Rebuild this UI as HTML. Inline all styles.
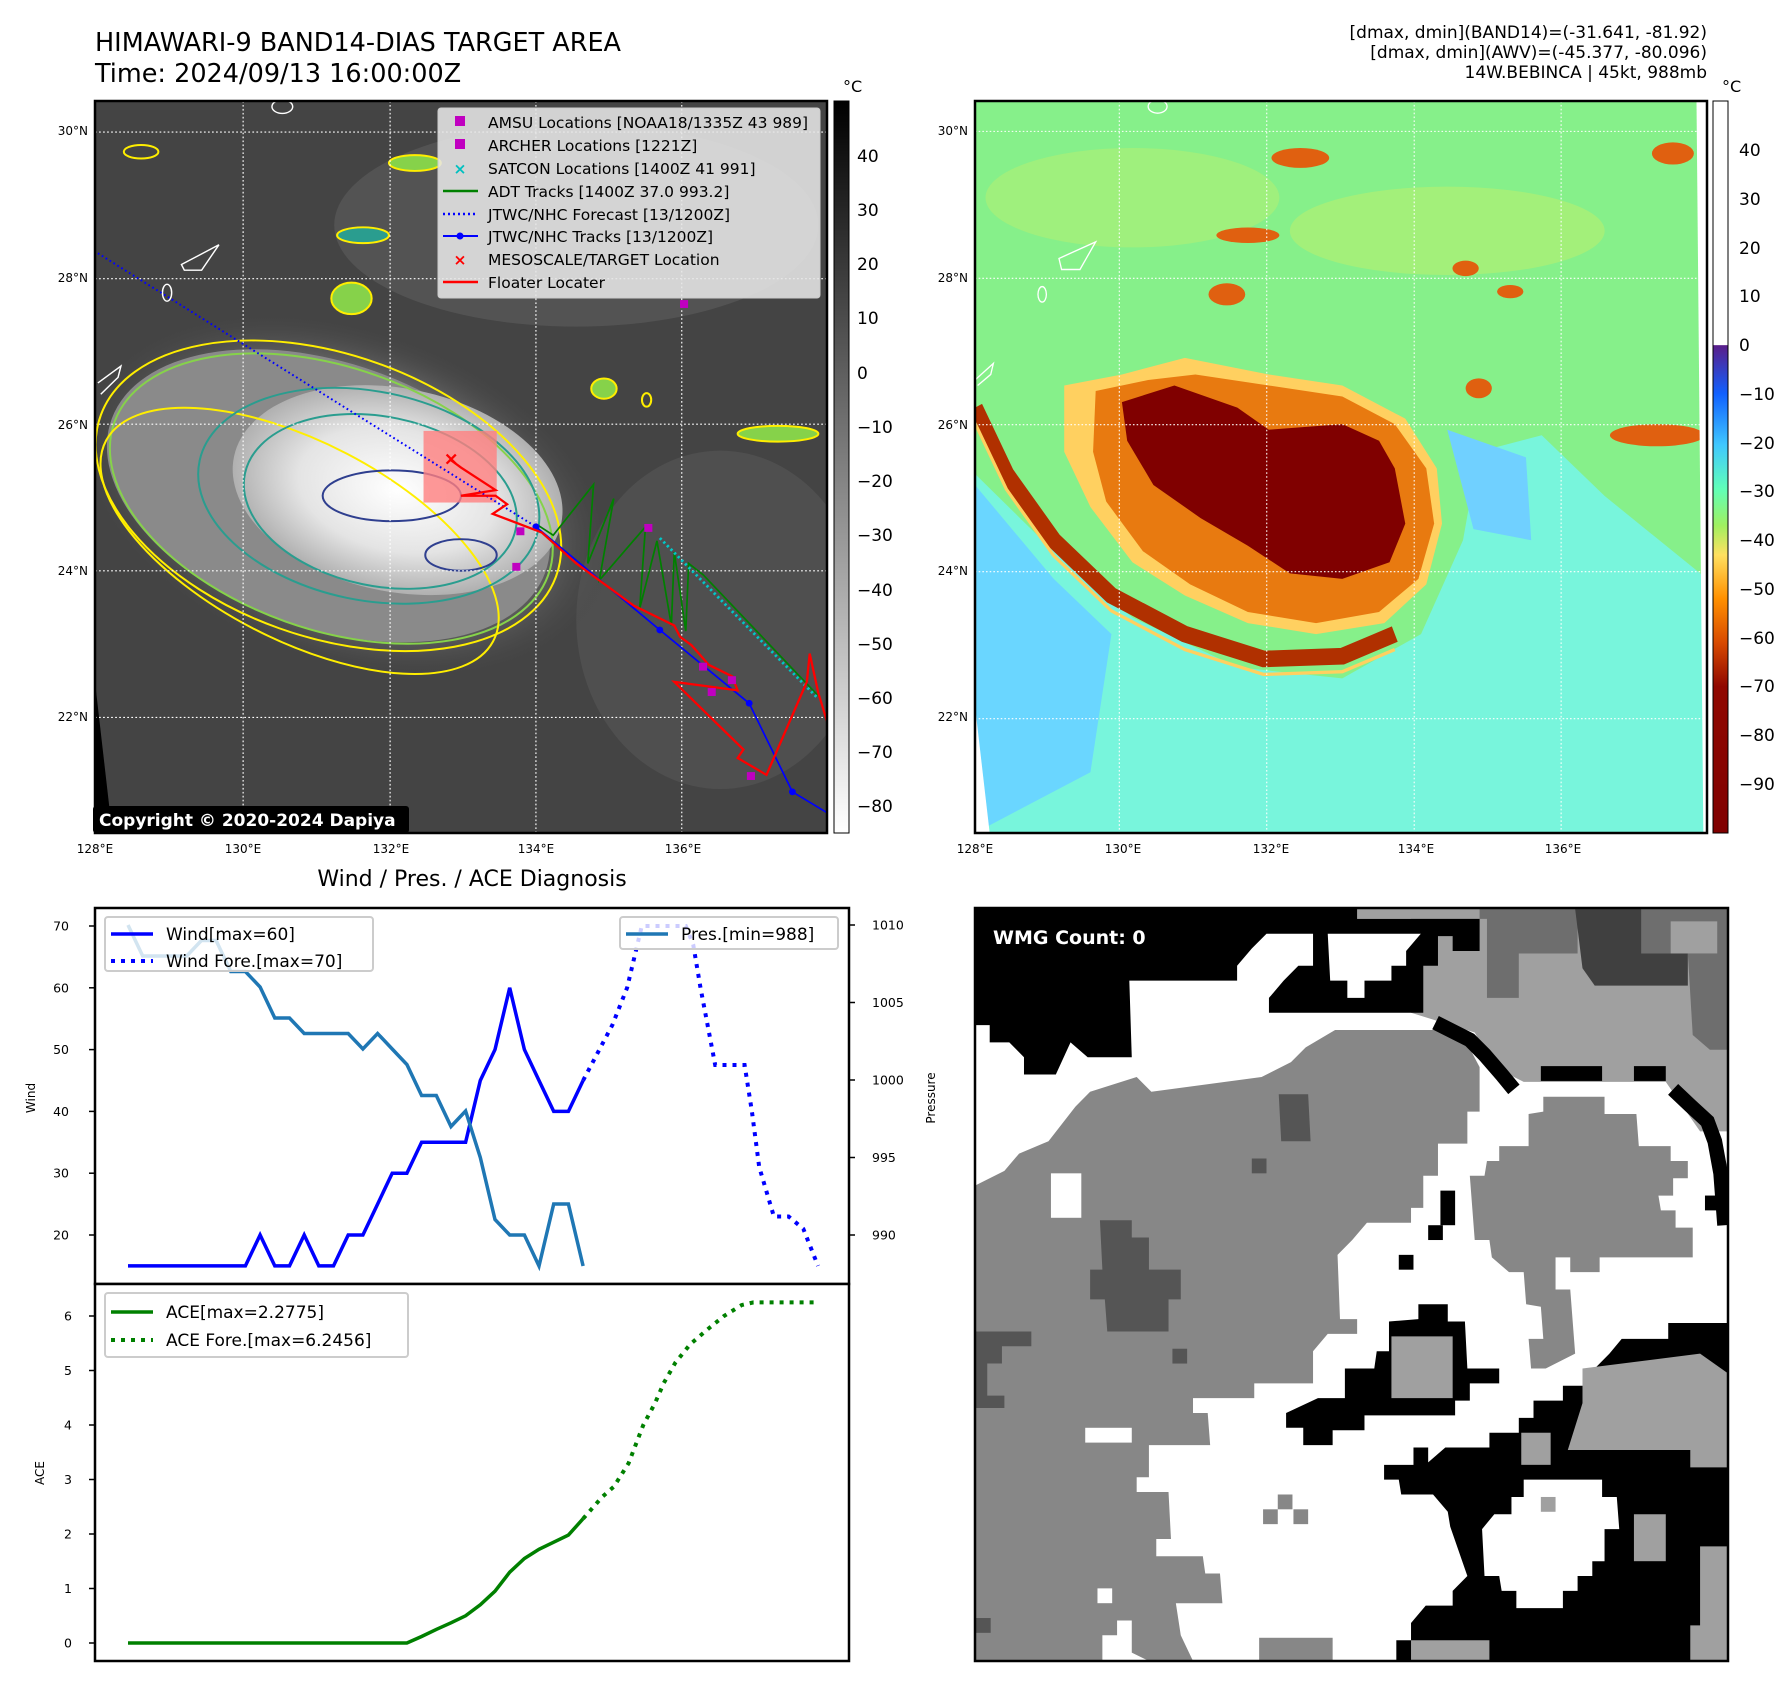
<!DOCTYPE html>
<html><head><meta charset="utf-8">
<style>
html,body{margin:0;padding:0;background:#fff;}
svg{display:block;font-family:"DejaVu Sans","Liberation Sans",sans-serif;}
</style></head>
<body>
<svg id="root" width="1788" height="1690" viewBox="0 0 1788 1690" xmlns="http://www.w3.org/2000/svg">
<defs>
  <linearGradient id="cb1" x1="0" y1="0" x2="0" y2="1">
    <stop offset="0" stop-color="#000"/><stop offset="1" stop-color="#fff"/>
  </linearGradient>
  <linearGradient id="cb2" x1="0" y1="0" x2="0" y2="1">
    <stop offset="0" stop-color="#ffffff"/>
    <stop offset="0.333" stop-color="#ffffff"/>
    <stop offset="0.334" stop-color="#5a1e8a"/>
    <stop offset="0.40" stop-color="#1060ff"/>
    <stop offset="0.47" stop-color="#40c8ff"/>
    <stop offset="0.53" stop-color="#60ffb8"/>
    <stop offset="0.58" stop-color="#a0f060"/>
    <stop offset="0.62" stop-color="#ffe060"/>
    <stop offset="0.68" stop-color="#ff9000"/>
    <stop offset="0.74" stop-color="#d84a00"/>
    <stop offset="0.80" stop-color="#900800"/>
    <stop offset="1" stop-color="#800000"/>
  </linearGradient>
  <radialGradient id="core1" cx="0.5" cy="0.5" r="0.5">
    <stop offset="0" stop-color="#ffffff"/><stop offset="0.6" stop-color="#e4e4e4"/><stop offset="1" stop-color="#b0b0b0"/>
  </radialGradient>
  <radialGradient id="halo1" cx="0.5" cy="0.5" r="0.5">
    <stop offset="0" stop-color="#a0a0a0"/><stop offset="0.7" stop-color="#7a7a7a"/><stop offset="1" stop-color="#444" stop-opacity="0"/>
  </radialGradient>
</defs>

<!-- Titles -->
<text x="95" y="51" font-size="25.5" fill="#000">HIMAWARI-9 BAND14-DIAS TARGET AREA</text>
<text x="95" y="82" font-size="25.5" fill="#000">Time: 2024/09/13 16:00:00Z</text>
<g font-size="17" text-anchor="end" fill="#000">
  <text x="1707" y="38">[dmax, dmin](BAND14)=(-31.641, -81.92)</text>
  <text x="1707" y="58">[dmax, dmin](AWV)=(-45.377, -80.096)</text>
  <text x="1707" y="78">14W.BEBINCA | 45kt, 988mb</text>
</g>

<!-- MAP 1 -->
<g>
<svg x="95" y="101" width="732" height="732" viewBox="165 180 1270 1298" preserveAspectRatio="none">
  <rect x="165" y="180" width="1270" height="1298" fill="#444"/>
  <ellipse cx="1000" cy="400" rx="420" ry="180" fill="#5a5a5a" opacity="0.7"/>
  <ellipse cx="1250" cy="1100" rx="250" ry="300" fill="#525252" opacity="0.8"/>
  <ellipse cx="600" cy="880" rx="480" ry="300" transform="rotate(20 600 880)" fill="url(#halo1)" opacity="0.8"/>
  <ellipse cx="570" cy="880" rx="400" ry="235" transform="rotate(20 570 880)" fill="#8a8a8a"/>
  <ellipse cx="690" cy="870" rx="290" ry="180" transform="rotate(12 690 870)" fill="url(#core1)"/>
  <g fill="none" stroke-width="3.5">
    <ellipse cx="570" cy="880" rx="420" ry="250" transform="rotate(20 570 880)" stroke="#ffee00"/>
    <ellipse cx="575" cy="885" rx="400" ry="232" transform="rotate(20 575 885)" stroke="#86d24a"/>
    <ellipse cx="520" cy="960" rx="380" ry="175" transform="rotate(28 520 960)" stroke="#ffee00"/>
    <ellipse cx="640" cy="880" rx="300" ry="185" transform="rotate(12 640 880)" stroke="#2a9d8f"/>
    <ellipse cx="660" cy="890" rx="240" ry="150" transform="rotate(12 660 890)" stroke="#2a9d8f"/>
    <ellipse cx="680" cy="880" rx="120" ry="45" stroke="#2f3f8f"/>
    <ellipse cx="800" cy="985" rx="62" ry="28" stroke="#2f3f8f"/>
    <ellipse cx="630" cy="418" rx="45" ry="14" stroke="#ffee00" fill="#2a9d8f"/>
    <ellipse cx="720" cy="290" rx="45" ry="14" stroke="#ffee00" fill="#86d24a"/>
    <ellipse cx="610" cy="530" rx="35" ry="28" stroke="#ffee00" fill="#86d24a"/>
    <ellipse cx="1048" cy="690" rx="22" ry="18" stroke="#ffee00" fill="#86d24a"/>
    <ellipse cx="1350" cy="770" rx="70" ry="14" stroke="#ffee00" fill="#86d24a"/>
    <ellipse cx="245" cy="270" rx="30" ry="12" stroke="#ffee00"/>
    <ellipse cx="1122" cy="710" rx="8" ry="12" stroke="#ffee00"/>
  </g>
  <polygon points="165,1210 195,1478 165,1478" fill="#000"/>
  <g stroke="#fff" stroke-width="2.5" fill="none">
    <path d="M315,470 L380,435 L350,480 L320,480 Z"/>
    <ellipse cx="290" cy="520" rx="8" ry="15"/>
    <path d="M170,680 L210,650 L205,670 L175,700"/>
    <ellipse cx="490" cy="190" rx="18" ry="12"/>
  </g>
  <g stroke="#fff" stroke-width="2" stroke-dasharray="3,4">
    <line x1="422" y1="180" x2="422" y2="1478"/><line x1="677" y1="180" x2="677" y2="1478"/>
    <line x1="930" y1="180" x2="930" y2="1478"/><line x1="1183" y1="180" x2="1183" y2="1478"/>
    <line x1="165" y1="235" x2="1435" y2="235"/><line x1="165" y1="495" x2="1435" y2="495"/>
    <line x1="165" y1="753" x2="1435" y2="753"/><line x1="165" y1="1013" x2="1435" y2="1013"/>
    <line x1="165" y1="1273" x2="1435" y2="1273"/>
  </g>
  <rect x="735" y="765" width="127" height="127" fill="#ff8080" opacity="0.8"/>
  <polyline points="170,450 930,935" fill="none" stroke="#0000ff" stroke-width="3.5" stroke-dasharray="3,5"/>
  <polyline points="930,930 960,950 1030,860 1020,1000 1065,885 1040,1030 1120,935 1110,1080 1140,960 1165,1110 1170,980 1190,1120 1195,1000 1220,1020 1420,1235" fill="none" stroke="#008000" stroke-width="3"/>
  <polyline points="1145,955 1420,1240" fill="none" stroke="#00c8c8" stroke-width="5" stroke-dasharray="4,5"/>
  <polyline points="930,935 1145,1118 1300,1248 1375,1405 1435,1442" fill="none" stroke="#0000ff" stroke-width="3"/>
  <g fill="#0000ff"><circle cx="930" cy="935" r="6"/><circle cx="1145" cy="1118" r="6"/><circle cx="1300" cy="1248" r="6"/><circle cx="1375" cy="1405" r="6"/></g>
  <polyline points="780,815 800,830 860,870 800,880 860,880 880,895 855,912 940,945 1000,1000 1100,1075 1140,1095 1170,1110 1180,1130 1200,1145 1230,1180 1270,1200 1280,1225 1170,1210 1290,1330 1280,1345 1330,1375 1400,1210 1405,1160 1420,1230 1435,1280" fill="none" stroke="#ff0000" stroke-width="4"/>
  <g fill="#c000c0">
    <rect x="1180" y="533" width="14" height="14"/><rect x="896" y="936" width="14" height="14"/>
    <rect x="889" y="999" width="14" height="14"/><rect x="1213" y="1176" width="14" height="14"/>
    <rect x="1228" y="1221" width="14" height="14"/><rect x="1296" y="1370" width="14" height="14"/>
    <rect x="1263" y="1200" width="14" height="14"/><rect x="1118" y="930" width="14" height="14"/>
  </g>
  <g stroke="#ff0000" stroke-width="4"><line x1="775" y1="807" x2="791" y2="823"/><line x1="791" y1="807" x2="775" y2="823"/></g>
</svg>
<rect x="95" y="101" width="732" height="732" fill="none" stroke="#000" stroke-width="2.5"/>
</g>

<!-- Map 1 legend -->
<g>
  <rect x="438" y="108" width="382" height="190" rx="3" fill="#e6e6e6" fill-opacity="0.88" stroke="#ccc"/>
  <g font-size="15.5" fill="#000">
    <rect x="455" y="116" width="10" height="10" fill="#c000c0"/><text x="488" y="128">AMSU Locations [NOAA18/1335Z 43 989]</text>
    <rect x="455" y="139" width="10" height="10" fill="#c000c0"/><text x="488" y="151">ARCHER Locations [1221Z]</text>
    <text x="460" y="174" fill="#00c0c0" text-anchor="middle" font-weight="bold">×</text><text x="488" y="174">SATCON Locations [1400Z 41 991]</text>
    <line x1="443" y1="191" x2="478" y2="191" stroke="#008000" stroke-width="2.5"/><text x="488" y="197">ADT Tracks [1400Z 37.0 993.2]</text>
    <line x1="443" y1="214" x2="478" y2="214" stroke="#0000ff" stroke-width="2.5" stroke-dasharray="2,3"/><text x="488" y="220">JTWC/NHC Forecast [13/1200Z]</text>
    <line x1="443" y1="236" x2="478" y2="236" stroke="#0000ff" stroke-width="2"/><circle cx="460" cy="236" r="3.5" fill="#0000ff"/><text x="488" y="242">JTWC/NHC Tracks [13/1200Z]</text>
    <text x="460" y="265" fill="#ff0000" text-anchor="middle" font-weight="bold">×</text><text x="488" y="265">MESOSCALE/TARGET Location</text>
    <line x1="443" y1="282" x2="478" y2="282" stroke="#ff0000" stroke-width="2.5"/><text x="488" y="288">Floater Locater</text>
  </g>
</g>
<g>
  <rect x="93" y="806" width="316" height="27" rx="3" fill="#000"/>
  <text x="99" y="826" font-size="17" font-weight="bold" fill="#fff">Copyright © 2020-2024 Dapiya</text>
</g>

<!-- Map axes labels -->
<g font-size="12" fill="#000">
  <text x="88" y="135" text-anchor="end">30°N</text><text x="88" y="282" text-anchor="end">28°N</text>
  <text x="88" y="429" text-anchor="end">26°N</text><text x="88" y="575" text-anchor="end">24°N</text>
  <text x="88" y="721" text-anchor="end">22°N</text>
  <text x="95" y="853" text-anchor="middle">128°E</text><text x="243" y="853" text-anchor="middle">130°E</text>
  <text x="391" y="853" text-anchor="middle">132°E</text><text x="536" y="853" text-anchor="middle">134°E</text>
  <text x="683" y="853" text-anchor="middle">136°E</text>
</g>
<g>
  <rect x="834" y="101" width="15" height="732" fill="url(#cb1)" stroke="#000" stroke-width="1"/>
  <text x="843" y="92" font-size="16">°C</text>
  <g font-size="17" fill="#000">
    <text x="857" y="162">40</text><text x="857" y="216">30</text><text x="857" y="270">20</text>
    <text x="857" y="324">10</text><text x="857" y="379">0</text><text x="857" y="433">−10</text>
    <text x="857" y="487">−20</text><text x="857" y="541">−30</text><text x="857" y="596">−40</text>
    <text x="857" y="650">−50</text><text x="857" y="704">−60</text><text x="857" y="758">−70</text>
    <text x="857" y="812">−80</text>
  </g>
</g>

<!-- MAP 2 -->
<g>
<svg x="975" y="101" width="732" height="732" viewBox="0 185 1395 1325" preserveAspectRatio="none">
  <rect x="0" y="185" width="1395" height="1325" fill="#86f08a"/>
  <polygon points="0,860 150,1000 300,1120 500,1210 700,1230 850,1150 930,980 960,820 1080,790 1200,900 1395,1050 1395,1510 0,1510" fill="#78f5dc"/>
  <polygon points="0,880 150,1050 260,1150 220,1400 0,1510" fill="#6ad6ff"/>
  <polygon points="900,780 1050,830 1060,980 950,960" fill="#70d0ff"/>
  <ellipse cx="900" cy="420" rx="300" ry="80" fill="#b8f070" opacity="0.6"/>
  <ellipse cx="300" cy="360" rx="280" ry="90" fill="#b8f070" opacity="0.5"/>
  <polygon points="170,700 280,680 400,650 560,680 700,700 820,760 880,850 890,950 860,1060 780,1130 650,1150 520,1130 400,1080 300,1020 220,920 170,820" fill="#ffd060"/>
  <polygon points="230,710 330,690 420,680 560,700 700,720 800,770 860,850 875,950 845,1050 770,1110 650,1130 520,1110 410,1060 320,1000 250,910 225,820" fill="#e87a10"/>
  <polyline points="0,740 60,860 150,980 260,1080 400,1150 550,1195 700,1190 800,1150" fill="none" stroke="#b03000" stroke-width="30"/>
  <polyline points="0,740 60,860 150,980 260,1080 400,1150 550,1195 700,1190 800,1150" fill="none" stroke="#ffd060" stroke-width="6" transform="translate(0,28)"/>
  <polygon points="280,730 380,700 500,740 560,780 700,770 770,800 800,850 820,950 790,1020 700,1050 600,1040 520,990 430,940 340,880 290,800" fill="#800000"/>
  <g fill="#e06010">
    <ellipse cx="620" cy="288" rx="55" ry="18"/><ellipse cx="520" cy="428" rx="60" ry="14"/>
    <ellipse cx="480" cy="535" rx="35" ry="20"/><ellipse cx="935" cy="488" rx="25" ry="14"/>
    <ellipse cx="960" cy="705" rx="25" ry="18"/><ellipse cx="1300" cy="790" rx="90" ry="20"/>
    <ellipse cx="1330" cy="280" rx="40" ry="20"/><ellipse cx="1020" cy="530" rx="25" ry="12"/>
  </g>
  <polygon points="0,1280 28,1510 0,1510" fill="#fff"/>
  <polygon points="1375,185 1395,185 1395,1510 1388,1510" fill="#fff"/>
  <g stroke="#fff" stroke-width="2.5" fill="none">
    <path d="M160,470 L230,440 L200,490 L165,490 Z"/><ellipse cx="128" cy="535" rx="8" ry="14"/>
    <path d="M0,690 L35,660 L30,680 L5,700"/><ellipse cx="348" cy="195" rx="18" ry="12"/>
  </g>
  <g stroke="#fff" stroke-width="2" stroke-dasharray="3,4">
    <line x1="275" y1="185" x2="275" y2="1510"/><line x1="556" y1="185" x2="556" y2="1510"/>
    <line x1="837" y1="185" x2="837" y2="1510"/><line x1="1117" y1="185" x2="1117" y2="1510"/>
    <line x1="0" y1="240" x2="1395" y2="240"/><line x1="0" y1="506" x2="1395" y2="506"/>
    <line x1="0" y1="771" x2="1395" y2="771"/><line x1="0" y1="1037" x2="1395" y2="1037"/>
    <line x1="0" y1="1303" x2="1395" y2="1303"/>
  </g>
</svg>
<rect x="975" y="101" width="732" height="732" fill="none" stroke="#000" stroke-width="2.5"/>
</g>
<g font-size="12" fill="#000">
  <text x="968" y="135" text-anchor="end">30°N</text><text x="968" y="282" text-anchor="end">28°N</text>
  <text x="968" y="429" text-anchor="end">26°N</text><text x="968" y="575" text-anchor="end">24°N</text>
  <text x="968" y="721" text-anchor="end">22°N</text>
  <text x="975" y="853" text-anchor="middle">128°E</text><text x="1123" y="853" text-anchor="middle">130°E</text>
  <text x="1271" y="853" text-anchor="middle">132°E</text><text x="1416" y="853" text-anchor="middle">134°E</text>
  <text x="1563" y="853" text-anchor="middle">136°E</text>
</g>
<g>
  <rect x="1713" y="101" width="15" height="732" fill="url(#cb2)" stroke="#000" stroke-width="1"/>
  <text x="1722" y="92" font-size="16">°C</text>
  <g font-size="17" fill="#000">
    <text x="1739" y="156">40</text><text x="1739" y="205">30</text><text x="1739" y="254">20</text>
    <text x="1739" y="302">10</text><text x="1739" y="351">0</text><text x="1739" y="400">−10</text>
    <text x="1739" y="449">−20</text><text x="1739" y="497">−30</text><text x="1739" y="546">−40</text>
    <text x="1739" y="595">−50</text><text x="1739" y="644">−60</text><text x="1739" y="692">−70</text>
    <text x="1739" y="741">−80</text><text x="1739" y="790">−90</text>
  </g>
</g>

<!-- Charts -->
<text x="472" y="886" font-size="22" text-anchor="middle">Wind / Pres. / ACE Diagnosis</text>
<g id="charts"></g>

<!-- WMG panel -->
<g>
<svg x="975" y="908" width="753" height="753" viewBox="0 8 1537 1524" preserveAspectRatio="none">
  <rect x="0" y="8" width="1537" height="1524" fill="#fff"/>
  <polygon fill="#878787" points="0,570 60,540 90,505 150,480 205,410 235,380 330,350 360,380 585,350 645,320 675,290 735,255 990,255 1030,330 1030,420 1005,420 1005,485 945,485 945,550 915,550 915,615 890,615 890,645 800,645 770,680 740,710 745,840 780,840 780,870 720,870 690,905 690,970 570,970 570,1000 445,1000 445,1030 475,1030 480,1095 355,1095 355,1160 330,1160 330,1190 395,1190 400,1285 370,1285 370,1320 465,1320 470,1355 500,1355 505,1415 410,1415 420,1480 445,1532 355,1532 320,1515 320,1450 290,1450 290,1480 260,1480 260,1532 0,1532"/>
  <polygon fill="#878787" points="1160,390 1285,390 1285,425 1350,425 1355,490 1420,490 1420,520 1455,520 1455,555 1425,555 1425,590 1395,590 1400,620 1430,620 1430,655 1465,655 1465,715 1275,715 1275,745 1215,745 1215,715 1185,715 1185,780 1215,780 1225,910 1165,940 1135,940 1130,880 1160,880 1155,815 1125,810 1120,745 1090,745 1055,715 1050,680 1020,680 1010,550 1040,550 1045,520 1070,520 1070,490 1130,490 1130,425 1160,420"/>
  <g fill="#fff">
    <rect x="155" y="545" width="62" height="90"/><rect x="225" y="1060" width="95" height="30"/><rect x="250" y="1385" width="30" height="30"/>
  </g>
  <g fill="#878787"><rect x="580" y="1485" width="150" height="47"/><rect x="618" y="1195" width="30" height="30"/><rect x="588" y="1225" width="30" height="30"/><rect x="650" y="1225" width="30" height="30"/></g>
  <g fill="#555">
    <polygon points="620,385 680,385 685,480 625,480"/>
    <polygon points="255,640 320,640 320,675 355,675 355,740 420,740 420,800 395,800 395,865 270,865 265,800 235,800 235,740 260,740"/>
    <polygon points="0,865 115,865 115,895 55,895 55,930 25,930 25,995 60,995 60,1020 0,1020"/>
    <rect x="565" y="515" width="30" height="30"/><rect x="403" y="900" width="30" height="30"/><rect x="0" y="1445" width="32" height="30"/>
  </g>
  <polygon fill="#a0a0a0" points="890,8 1537,8 1537,460 1480,460 1410,360 1120,360 1060,330 1020,260 890,220"/>
  <polygon fill="#a0a0a0" points="55,110 280,110 280,215 95,215"/>
  <rect x="780" y="10" width="250" height="20" fill="#a0a0a0"/>
  <polygon fill="#6e6e6e" points="1030,10 1230,10 1230,100 1110,100 1110,190 1045,190 1045,30 1030,30"/>
  <polygon fill="#6e6e6e" points="1455,100 1537,100 1537,295 1500,295 1465,265"/>
  <polygon fill="#6e6e6e" points="1360,10 1537,10 1537,100 1360,100"/>
  <rect x="1420" y="35" width="95" height="65" fill="#a0a0a0"/>
  <polygon fill="#404040" points="1225,10 1360,10 1360,100 1455,100 1455,165 1265,165 1240,130"/>
  <g fill="#000">
    <polygon points="0,10 780,10 780,30 1030,30 1030,95 975,95 975,65 945,65 945,125 915,125 915,220 600,220 600,190 630,155 660,125 690,125 690,60 595,60 565,90 535,125 535,155 315,155 320,310 230,310 195,280 165,345 100,345 100,310 70,280 30,280 30,245 0,245"/>
    <polyline points="940,240 1010,275 1040,305 1075,345 1100,375" fill="none" stroke="#000" stroke-width="30"/>
    <rect x="1155" y="328" width="125" height="30"/><rect x="1345" y="328" width="65" height="30"/>
    <polyline points="1425,375 1460,408 1495,440 1510,480 1522,545 1530,650" fill="none" stroke="#000" stroke-width="30"/>
    <rect x="950" y="580" width="30" height="70"/><rect x="925" y="650" width="30" height="30"/>
    <rect x="865" y="710" width="30" height="30"/><rect x="1490" y="590" width="30" height="30"/>
    <polygon points="905,810 965,810 965,845 1000,845 1005,940 1070,940 1070,970 1010,970 1010,1005 980,1005 980,1035 795,1035 795,1065 730,1065 730,1095 670,1095 670,1060 635,1060 635,1030 700,1000 755,1000 755,940 815,940 820,905 845,905 845,845 905,840"/>
    <polygon points="1415,848 1537,848 1537,1532 860,1532 860,1490 890,1490 890,1455 920,1420 975,1420 975,1390 1005,1360 970,1260 965,1230 935,1195 870,1195 865,1165 835,1165 835,1135 895,1135 895,1100 925,1100 925,1130 960,1100 1050,1100 1050,1070 1110,1070 1110,1040 1140,1040 1140,1005 1200,1005 1200,975 1265,975 1265,940 1295,910 1320,880 1415,880"/>
  </g>
  <polygon fill="#fff" points="720,60 910,60 880,95 880,125 850,125 850,155 795,155 795,190 760,190 760,155 725,155"/>
  <polygon fill="#fff" points="1120,1165 1280,1165 1280,1200 1310,1200 1315,1265 1285,1265 1285,1330 1260,1330 1260,1360 1230,1360 1230,1390 1200,1390 1200,1425 1105,1425 1105,1390 1075,1390 1070,1360 1040,1360 1035,1265 1060,1235 1095,1235 1095,1200 1120,1200"/>
  <g fill="#a0a0a0">
    <polygon points="850,875 975,875 975,1000 850,1000"/>
    <polygon points="1240,940 1480,910 1537,950 1537,1140 1460,1140 1460,1105 1210,1105 1240,1010"/>
    <polygon points="1480,1300 1537,1300 1537,1532 1460,1532 1460,1460 1480,1460"/>
    <rect x="1345" y="1235" width="65" height="95"/><rect x="890" y="1490" width="160" height="42"/>
    <rect x="1155" y="1200" width="30" height="30"/><rect x="1115" y="1070" width="60" height="65"/>
  </g>
</svg>
<rect x="975" y="908" width="753" height="753" fill="none" stroke="#000" stroke-width="2.5"/>
<rect x="985" y="922" width="184" height="30" rx="4" fill="#000"/>
<text x="993" y="944" font-size="19" font-weight="bold" fill="#fff">WMG Count: 0</text>
</g>
</svg>

<script>
// ---- chart data ----
const obsIdx = [0,1,2,3,4,5,6,7,8,9,10,11,12,13,14,15,16,17,18,19,20,21,22,23,24,25,26,27,28,29,30,31];
const windObs = [15,15,15,15,15,15,15,15,15,20,15,15,20,15,15,20,20,25,30,30,35,35,35,35,45,50,60,50,45,40,40,45];
const presObs = [1010,1008,1008,1008,1008,1009,1009,1007,1007,1006,1004,1004,1003,1003,1003,1003,1002,1003,1002,1001,999,999,997,998,995,991,990,990,988,992,992,988];
const aceObs = [0,0,0,0,0,0,0,0,0,0,0,0,0,0,0,0,0,0,0,0,0.12,0.25,0.37,0.5,0.7,0.95,1.3,1.55,1.72,1.85,1.98,2.28];
const windFcIdx = [31,33,34,35,37,38,38.5,39,40,42,42.5,43,44,45,46,47];
const windFc = [45,54,60,70,70,70,67,60,47.5,47.5,40,31,23,23,21,15];
const aceFcIdx = [31,32.3,33.1,34.1,35.1,35.9,36.5,37.3,38.3,39.5,40.6,41.8,42.6,46.7];
const aceFc = [2.28,2.68,2.87,3.3,4.0,4.4,4.77,5.15,5.48,5.76,6.0,6.2,6.25,6.25];
const windTicks = [20,30,40,50,60,70];
const presTicks = [990,995,1000,1005,1010];
const aceTicks = [0,1,2,3,4,5,6];

const NS = 'http://www.w3.org/2000/svg';
const X = i => 128 + i * 14.68;
const WY = v => 926 + (70 - v) * 6.18;
const PY = p => 925 + (1010 - p) * 15.5;
const AY = a => 1643 - a * 54.5;
const root = document.getElementById('charts');
function mk(tag, attrs) {
  const e = document.createElementNS(NS, tag);
  for (const k in attrs) e.setAttribute(k, attrs[k]);
  root.appendChild(e);
  return e;
}
function pts(xs, ys, fy) { return xs.map((x, i) => X(x).toFixed(1) + ',' + fy(ys[i]).toFixed(1)).join(' '); }

let e;
e = mk('rect', {x: 95, y: 908, width: 754, height: 376, fill: '#fff', stroke: '#000', 'stroke-width': 2.5});


e = mk('rect', {x: 95, y: 1284, width: 754, height: 377, fill: '#fff', stroke: '#000', 'stroke-width': 2.5});



windTicks.forEach(v => {
  mk('line', {x1: 89, x2: 95, y1: WY(v), y2: WY(v), stroke: '#000', 'stroke-width': 1.5});
  e = mk('text', {x: 69, y: WY(v) + 4.5, 'font-size': 12.5, 'text-anchor': 'end'});
  e.textContent = v;
  
  
});
presTicks.forEach(v => {
  mk('line', {x1: 849, x2: 855, y1: PY(v), y2: PY(v), stroke: '#000', 'stroke-width': 1.5});
  e = mk('text', {x: 872, y: PY(v) + 4.5, 'font-size': 12.5});
  e.textContent = v;
  
  
});
aceTicks.forEach(v => {
  mk('line', {x1: 89, x2: 95, y1: AY(v), y2: AY(v), stroke: '#000', 'stroke-width': 1.5});
  e = mk('text', {x: 72, y: AY(v) + 4.5, 'font-size': 12.5, 'text-anchor': 'end'});
  e.textContent = v;
  
  
});
e = mk('text', {x: 35, y: 1098, 'font-size': 12, 'text-anchor': 'middle', transform: 'rotate(-90 35 1098)'});
e.textContent = 'Wind';


e = mk('text', {x: 935, y: 1098, 'font-size': 12, 'text-anchor': 'middle', transform: 'rotate(-90 935 1098)'});
e.textContent = 'Pressure';


e = mk('text', {x: 44, y: 1473, 'font-size': 12, 'text-anchor': 'middle', transform: 'rotate(-90 44 1473)'});
e.textContent = 'ACE';



e = mk('polyline', {points: pts(windFcIdx, windFc, WY), fill: 'none', stroke: '#0000ff', 'stroke-width': 4, 'stroke-dasharray': '4,6'});


e = mk('polyline', {points: pts(obsIdx, windObs, WY), fill: 'none', stroke: '#0000ff', 'stroke-width': 3.5});


e = mk('polyline', {points: pts(obsIdx, presObs, PY), fill: 'none', stroke: '#1f77b4', 'stroke-width': 3.5});


e = mk('polyline', {points: pts(aceFcIdx, aceFc, AY), fill: 'none', stroke: '#008000', 'stroke-width': 4, 'stroke-dasharray': '4,6'});


e = mk('polyline', {points: pts(obsIdx, aceObs, AY), fill: 'none', stroke: '#008000', 'stroke-width': 3.5});



// legends
e = mk('rect', {x: 105, y: 917, width: 268, height: 54, rx: 3, fill: '#fff', 'fill-opacity': 0.8, stroke: '#ccc', 'stroke-width': 2});


mk('line', {x1: 111, x2: 153, y1: 934, y2: 934, stroke: '#0000ff', 'stroke-width': 3.5});
mk('line', {x1: 111, x2: 153, y1: 961, y2: 961, stroke: '#0000ff', 'stroke-width': 4, 'stroke-dasharray': '4,6'});
e = mk('text', {x: 166, y: 940, 'font-size': 17}); e.textContent = 'Wind[max=60]';


e = mk('text', {x: 166, y: 967, 'font-size': 17}); e.textContent = 'Wind Fore.[max=70]';


e = mk('rect', {x: 620, y: 917, width: 218, height: 32, rx: 3, fill: '#fff', 'fill-opacity': 0.8, stroke: '#ccc', 'stroke-width': 2});


mk('line', {x1: 626, x2: 668, y1: 934, y2: 934, stroke: '#1f77b4', 'stroke-width': 3.5});
e = mk('text', {x: 681, y: 940, 'font-size': 17}); e.textContent = 'Pres.[min=988]';


e = mk('rect', {x: 105, y: 1293, width: 303, height: 64, rx: 3, fill: '#fff', 'fill-opacity': 0.8, stroke: '#ccc', 'stroke-width': 2});


mk('line', {x1: 111, x2: 153, y1: 1312, y2: 1312, stroke: '#008000', 'stroke-width': 3.5});
mk('line', {x1: 111, x2: 153, y1: 1340, y2: 1340, stroke: '#008000', 'stroke-width': 4, 'stroke-dasharray': '4,6'});
e = mk('text', {x: 166, y: 1318, 'font-size': 17}); e.textContent = 'ACE[max=2.2775]';


e = mk('text', {x: 166, y: 1346, 'font-size': 17}); e.textContent = 'ACE Fore.[max=6.2456]';


</script>
</body></html>
